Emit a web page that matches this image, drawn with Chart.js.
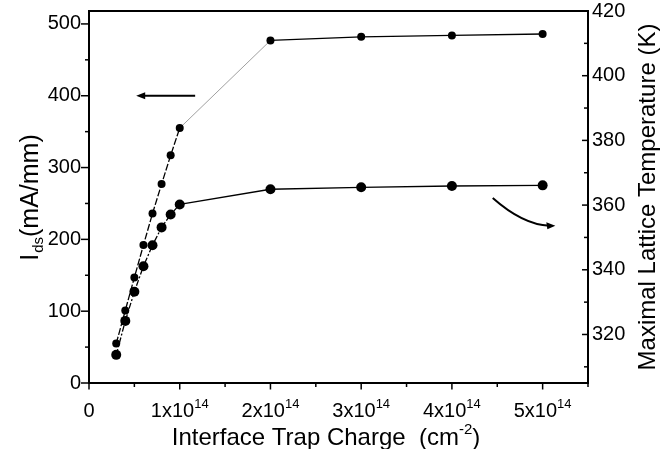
<!DOCTYPE html>
<html>
<head>
<meta charset="utf-8">
<script src="https://cdn.jsdelivr.net/npm/chart.js@4.4.1/dist/chart.umd.min.js"></script>
<style>
html,body{margin:0;padding:0;background:#fff;}
#wrap{width:662px;height:449px;position:relative;}
</style>
</head>
<body>
<div id="wrap"><canvas id="c" width="662" height="449"></canvas></div>
<script>
// ---- data ----
const trapCharge = [3e13, 4e13, 5e13, 6e13, 7e13, 8e13, 9e13, 1e14, 2e14, 3e14, 4e14, 5e14];
const idsValues = [55, 101, 147, 192, 236, 277, 317, 355, 477, 482, 484, 486];
const tempValues = [313.7, 324.2, 333.2, 341.1, 347.6, 353.1, 357.1, 360.2, 364.9, 365.5, 365.9, 366.1];
const xTickValues = [0, 1e14, 2e14, 3e14, 4e14, 5e14];
const xTickMantissa = ['0', '1', '2', '3', '4', '5'];
const leftTickValues = [0, 100, 200, 300, 400, 500];
const rightTickValues = [320, 340, 360, 380, 400, 420];

const FONT = '"Liberation Sans", Arial, sans-serif';

const idsData = trapCharge.map((v, i) => ({x: v, y: idsValues[i]}));
const tempData = trapCharge.map((v, i) => ({x: v, y: tempValues[i]}));

function line(ctx, x1, y1, x2, y2) { ctx.beginPath(); ctx.moveTo(x1, y1); ctx.lineTo(x2, y2); ctx.stroke(); }

const decor = {
  id: 'decor',
  afterDraw(chart) {
    const {ctx, chartArea: a, scales} = chart;
    const x = scales.x, y = scales.y, y1 = scales.y1;
    ctx.save();
    ctx.strokeStyle = '#000';
    ctx.fillStyle = '#000';
    // frame
    ctx.lineWidth = 2;
    ctx.strokeRect(a.left, a.top, a.right - a.left, a.bottom - a.top);
    // x ticks
    ctx.lineWidth = 1.5;
    for (let k = 0; k <= 11; k++) {
      const px = x.getPixelForValue(k * 0.5e14);
      line(ctx, px, a.bottom, px, a.bottom + (k % 2 === 0 ? 6.5 : 4));
    }
    // left ticks
    for (let k = 0; k <= 10; k++) {
      const py = y.getPixelForValue(k * 50);
      line(ctx, a.left, py, a.left - (k % 2 === 0 ? 8 : 4), py);
    }
    // right ticks (inward)
    for (let k = 0; k <= 11; k++) {
      const v = 310 + k * 10;
      const py = y1.getPixelForValue(v);
      line(ctx, a.right, py, a.right - (k % 2 === 1 ? 6 : 4), py);
    }
    // x tick labels
    ctx.textBaseline = 'alphabetic';
    xTickValues.forEach((v, i) => {
      const px = x.getPixelForValue(v);
      const base = 417;
      if (i === 0) {
        ctx.font = '20px ' + FONT; ctx.textAlign = 'center';
        ctx.fillText('0', px, base);
      } else {
        ctx.font = '20px ' + FONT;
        const t1 = xTickMantissa[i] + 'x10';
        const w1 = ctx.measureText(t1).width;
        ctx.font = '13px ' + FONT;
        const w2 = ctx.measureText('14').width;
        const start = px - (w1 + w2) / 2;
        ctx.textAlign = 'left';
        ctx.font = '20px ' + FONT;
        ctx.fillText(t1, start, base);
        ctx.font = '13px ' + FONT;
        ctx.fillText('14', start + w1, base - 9);
      }
    });
    // x title
    {
      ctx.font = '24px ' + FONT;
      const t1 = 'Interface Trap Charge  (cm';
      const w1 = ctx.measureText(t1).width;
      ctx.font = '15px ' + FONT;
      const w2 = ctx.measureText('-2').width;
      ctx.font = '24px ' + FONT;
      const w3 = ctx.measureText(')').width;
      const cx = 326;
      const start = cx - (w1 + w2 + w3) / 2;
      const base = 445;
      ctx.textAlign = 'left';
      ctx.fillText(t1, start, base);
      ctx.font = '15px ' + FONT;
      ctx.fillText('-2', start + w1, base - 11);
      ctx.font = '24px ' + FONT;
      ctx.fillText(')', start + w1 + w2, base);
    }
    // left title (rotated)
    {
      ctx.save();
      ctx.translate(38, 198);
      ctx.rotate(-Math.PI / 2);
      ctx.font = '25px ' + FONT;
      const wI = ctx.measureText('I').width;
      ctx.font = '15px ' + FONT;
      const wds = ctx.measureText('ds').width;
      ctx.font = '25px ' + FONT;
      const wr = ctx.measureText('(mA/mm)').width;
      const start = -(wI + wds + wr) / 2;
      ctx.textAlign = 'left';
      ctx.fillText('I', start, 0);
      ctx.font = '15px ' + FONT;
      ctx.fillText('ds', start + wI + 1, 5);
      ctx.font = '25px ' + FONT;
      ctx.fillText('(mA/mm)', start + wI + wds + 1, 0);
      ctx.restore();
    }
    // right title (rotated, bottom-to-top)
    {
      ctx.save();
      ctx.translate(655, 197);
      ctx.rotate(-Math.PI / 2);
      ctx.font = '24px ' + FONT;
      ctx.textAlign = 'center';
      ctx.fillText('Maximal Lattice Temperature (K)', 0, 0);
      ctx.restore();
    }
    // left-pointing arrow (Ids axis indicator)
    {
      const xs = x.getPixelForValue(1.17e14), xe = x.getPixelForValue(0.52e14), yy = y.getPixelForValue(400);
      ctx.lineWidth = 2;
      line(ctx, xs, yy, xe + 6, yy);
      ctx.beginPath();
      ctx.moveTo(xe, yy); ctx.lineTo(xe + 9, yy - 3.5); ctx.lineTo(xe + 9, yy + 3.5); ctx.closePath(); ctx.fill();
    }
    // right-pointing curved arrow (temperature axis indicator)
    {
      const sx = x.getPixelForValue(4.45e14), sy = y1.getPixelForValue(362.2);
      const cx = x.getPixelForValue(4.78e14), cy = y1.getPixelForValue(354.0);
      const ex = x.getPixelForValue(5.14e14), ey = y1.getPixelForValue(353.6);
      ctx.lineWidth = 2;
      ctx.beginPath(); ctx.moveTo(sx, sy); ctx.quadraticCurveTo(cx, cy, ex - 6, ey); ctx.stroke();
      ctx.beginPath();
      ctx.moveTo(ex, ey); ctx.lineTo(ex - 9, ey - 3.5); ctx.lineTo(ex - 8, ey + 3.5); ctx.closePath(); ctx.fill();
    }
    ctx.restore();
  }
};

new Chart(document.getElementById('c'), {
  type: 'line',
  data: {
    datasets: [
      {
        label: 'Ids',
        data: idsData,
        yAxisID: 'y',
        borderColor: '#000',
        backgroundColor: '#000',
        borderWidth: 1.3,
        pointRadius: 4,
        pointBackgroundColor: '#000',
        pointBorderWidth: 0,
        tension: 0,
        segment: {
          borderDash: ctx => ctx.p0DataIndex < 7 ? [7, 2] : undefined,
          borderColor: ctx => ctx.p0DataIndex === 7 ? '#888' : '#000',
          borderWidth: ctx => ctx.p0DataIndex === 7 ? 0.8 : 1.3
        }
      },
      {
        label: 'T',
        data: tempData,
        yAxisID: 'y1',
        borderColor: '#000',
        backgroundColor: '#000',
        borderWidth: 1.3,
        pointRadius: 5,
        pointBackgroundColor: '#000',
        pointBorderWidth: 0,
        tension: 0,
        segment: {
          borderDash: ctx => ctx.p0DataIndex < 7 ? [6, 2, 2, 2] : undefined
        }
      }
    ]
  },
  options: {
    responsive: false,
    animation: false,
    events: [],
    layout: {padding: {top: 11, left: 0, right: 0, bottom: 0}},
    plugins: {legend: {display: false}, tooltip: {enabled: false}},
    scales: {
      x: {
        type: 'linear',
        min: 0, max: 5.5e14,
        grid: {display: false, drawTicks: false},
        border: {display: false},
        ticks: {display: false},
        afterFit: s => { s.height = 66; s.paddingLeft = 0; s.paddingRight = 0; }
      },
      y: {
        type: 'linear', position: 'left',
        min: 0, max: 518,
        grid: {display: false, drawTicks: false},
        border: {display: false},
        afterBuildTicks: s => { s.ticks = leftTickValues.map(v => ({value: v})); },
        ticks: {color: '#000', padding: 8, font: {family: FONT, size: 20}},
        afterFit: s => { s.width = 89; s.paddingTop = 0; s.paddingBottom = 0; }
      },
      y1: {
        type: 'linear', position: 'right',
        min: 305, max: 420,
        grid: {display: false, drawTicks: false},
        border: {display: false},
        afterBuildTicks: s => { s.ticks = rightTickValues.map(v => ({value: v})); },
        ticks: {color: '#000', padding: 4, font: {family: FONT, size: 20}},
        afterFit: s => { s.width = 74; s.paddingTop = 0; s.paddingBottom = 0; }
      }
    }
  },
  plugins: [decor]
});
</script>
</body>
</html>
